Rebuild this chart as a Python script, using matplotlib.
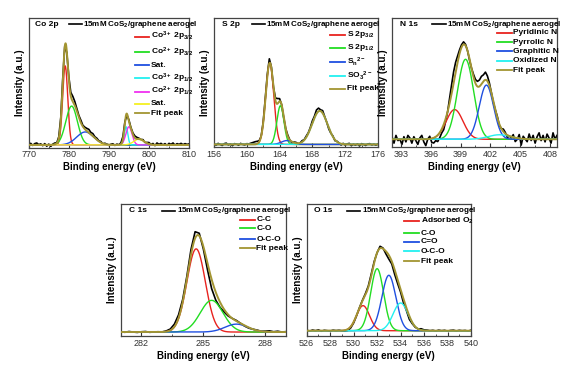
import numpy as np
import matplotlib
matplotlib.use("Agg")
import matplotlib.pyplot as plt
from matplotlib.ticker import MultipleLocator

plt.rcParams['font.family'] = ['Liberation Sans', 'DejaVu Sans']
plt.rcParams['mathtext.fontset'] = 'custom'
plt.rcParams['mathtext.rm'] = 'Liberation Sans:bold'
plt.rcParams['mathtext.it'] = 'Liberation Sans:bold'
plt.rcParams['mathtext.bf'] = 'Liberation Sans:bold'
plt.rcParams['mathtext.default'] = 'rm'

sample_label = "15mM CoS$_2$/graphene aerogel"

# ---------------- Co 2p ----------------
co_title = "Co 2p"
co_xlim = (770, 810)
co_baseline = 0.02
co_labels = ["Co$^{3+}$ 2p$_{3/2}$", "Co$^{2+}$ 2p$_{3/2}$", "Sat.",
             "Co$^{3+}$ 2p$_{1/2}$", "Co$^{2+}$ 2p$_{1/2}$", "Sat."]
co_centers = [779.1, 780.7, 784.1, 794.3, 795.0, 797.5]
co_heights = [0.61, 0.30, 0.10, 0.14, 0.14, 0.045]
co_fwhm = [1.5, 3.4, 5.0, 1.0, 1.8, 3.0]
co_resid = [0.005, 0.012, -0.004, 0.010, 0.015, 0.002, 0.008, -0.006, 0.010, -0.010,
            0.006, -0.012, 0.004, 0.010, 0.002, 0.010, 0.020, 0.030, 0.010, -0.010,
            0.020, 0.030, 0.040, 0.030, 0.020, 0.015, 0.020, 0.010, 0.015, 0.020,
            0.025, 0.015, 0.020, 0.010, 0.012, 0.004, 0.008, -0.004, 0.006, 0.002,
            -0.006, 0.004, 0.008, -0.004, 0.006, 0.000, 0.010, 0.020, 0.010, -0.010,
            0.010, 0.005, 0.010, 0.015, 0.012, 0.006, 0.000, 0.008, -0.004, 0.006,
            0.012, 0.000, 0.010, -0.006, 0.015, 0.004, 0.012, 0.000, 0.010, -0.004,
            0.012, 0.004, 0.015, -0.002, 0.010, 0.004, 0.012, 0.002, 0.010, 0.004,
            0.008]
co_colors = ["#e8231f", "#22dd22", "#1f4fe0", "#22f0f0", "#f030f0", "#f5f020"]
co_xticks = [770, 780, 790, 800, 810]

# ---------------- S 2p ----------------
s_title = "S 2p"
s_xlim = (156, 176)
s_baseline = 0.02
s_labels = ["S 2p$_{3/2}$", "S 2p$_{1/2}$", "S$_n$$^{2-}$", "SO$_3$$^{2-}$"]
s_centers = [162.8, 164.1, 164.9, 168.9]
s_heights = [0.63, 0.30, 0.03, 0.26]
s_fwhm = [1.15, 1.0, 1.6, 2.2]
s_resid = [0.004, -0.006, 0.008, 0.000, -0.008, 0.006, 0.010, -0.004, 0.004, -0.010,
           0.006, 0.002, -0.006, 0.008, 0.000, -0.004, 0.006,
           0.004, 0.010, 0.015, 0.020, 0.020, 0.010, 0.000, 0.010, 0.020, 0.020,
           0.035, 0.010, -0.010, 0.020, 0.040, 0.020, 0.000, -0.010, 0.000, 0.010,
           0.000, -0.010, 0.004, 0.006, -0.004, 0.000, 0.010, 0.004, 0.010, 0.006, 0.010,
           0.020, 0.015, 0.030, 0.025, 0.010, 0.020, 0.005, 0.000, -0.010,
           -0.004, 0.006, -0.008, 0.004, 0.000, -0.010, 0.006, -0.006, 0.004, 0.008,
           -0.010, 0.002, -0.006, 0.004, -0.012, 0.006, 0.000, -0.008, 0.004, 0.006,
           -0.004, 0.002, -0.006, 0.004]
s_colors = ["#e8231f", "#22dd22", "#1f4fe0", "#22f0f0"]
s_xticks = [156, 160, 164, 168, 172, 176]

# ---------------- N 1s ----------------
n_title = "N 1s"
n_xlim = (392.1, 408.7)
n_baseline = 0.06
n_labels = ["Pyridinic N", "Pyrrolic N", "Graphitic N", "Oxidized N"]
n_centers = [398.4, 399.5, 401.6, 402.9]
n_heights = [0.23, 0.62, 0.42, 0.035]
n_fwhm = [2.0, 1.9, 1.7, 2.6]
n_resid = [0.02, -0.03, 0.03, -0.01, 0.00, -0.04, 0.02, -0.02, 0.03, 0.01,
           -0.03, 0.02, -0.01, -0.04, 0.01, 0.03, -0.02, -0.05, 0.00, 0.02, -0.03,
           -0.04, -0.03, -0.05, -0.04, -0.03, -0.04, -0.02, 0.00,
           0.04, 0.07, 0.09, 0.08, 0.05, 0.03, 0.02,
           0.02, 0.01, 0.00, -0.01, 0.00, 0.02, 0.03,
           0.04, 0.05, 0.06, 0.05, 0.06, 0.04, 0.02, 0.00,
           -0.01, 0.00, 0.01, -0.01, 0.00, 0.02, 0.01, -0.02, 0.00, -0.01,
           0.02, -0.03, -0.01, 0.03, -0.05, 0.02, 0.00, -0.02, 0.04, -0.01,
           0.03, -0.03, 0.02, 0.05, -0.01, 0.03, -0.02, 0.04, 0.01, -0.03,
           0.05, 0.00, 0.03]
n_colors = ["#e8231f", "#22dd22", "#1f4fe0", "#22f0f0"]
n_xticks = [393, 396, 399, 402, 405, 408]

# ---------------- C 1s ----------------
c_title = "C 1s"
c_xlim = (281, 289)
c_baseline = 0.03
c_labels = ["C-C", "C-O", "O-C-O"]
c_centers = [284.65, 285.4, 286.6]
c_heights = [0.63, 0.24, 0.06]
c_fwhm = [1.05, 1.3, 1.3]
c_resid = [0.003, -0.002, 0.004, 0.000, -0.003, 0.002, 0.004, -0.002, 0.000, 0.002, 0.000,
           0.005, 0.010, 0.020, 0.025, 0.020, 0.020,
           0.040, 0.050, 0.020, -0.020,
           -0.050, -0.070, -0.060, -0.040, -0.020, -0.010,
           0.000, 0.005, 0.000, -0.005, -0.005, 0.000, 0.003, 0.000, 0.004, 0.008,
           0.002, 0.006, 0.000, 0.003]
c_colors = ["#e8231f", "#22dd22", "#1f4fe0"]
c_xticks = [282, 285, 288]

# ---------------- O 1s ----------------
o_title = "O 1s"
o_xlim = (526, 540)
o_baseline = 0.04
o_labels = ["Adsorbed O$_2$", "C-O", "C=O", "O-C-O"]
o_centers = [530.8, 532.0, 533.0, 534.0]
o_heights = [0.19, 0.47, 0.42, 0.21]
o_fwhm = [1.3, 1.3, 1.4, 1.5]
o_resid = [0.004, -0.003, 0.005, 0.000, 0.006, -0.004, 0.003, 0.000, -0.003, 0.004,
           0.000, 0.003, -0.002,
           -0.005, -0.010, -0.010, -0.008, -0.005, 0.000, 0.005, 0.010, 0.010, 0.015, 0.010,
           0.000, 0.015, 0.005, -0.020, -0.030, -0.020, -0.035, -0.030, -0.020,
           -0.030, -0.020, -0.025, -0.010, -0.005, 0.000, 0.010, 0.005,
           0.004, 0.000, 0.003, -0.002, 0.004, 0.000, 0.003, -0.003, 0.002, 0.004,
           -0.002, 0.003, 0.000, 0.002, -0.003, 0.004]
o_colors = ["#e8231f", "#22dd22", "#1f4fe0", "#22f0f0"]
o_xticks = [526, 528, 530, 532, 534, 536, 538, 540]

FIT_COLOR = "#a39532"


def gauss(x, c, h, w):
    return h * np.exp(-4 * np.log(2) * ((x - c) / w) ** 2)


def draw_panel(rect, title, xlim, baseline, labels, centers, heights, fwhm, resid,
               colors, xticks, minor, leg_x, leg_y, first_x, title_x):
    ax = fig.add_axes(rect)
    x = np.linspace(xlim[0], xlim[1], 1200)
    comps = [gauss(x, c, h, w) for c, h, w in zip(centers, heights, fwhm)]
    fit = baseline + np.sum(comps, axis=0)
    xe = np.linspace(xlim[0], xlim[1], len(resid))
    ce = [gauss(xe, c, h, w) for c, h, w in zip(centers, heights, fwhm)]
    exp_y = baseline + np.sum(ce, axis=0) + np.array(resid)
    ax.plot(xe, exp_y, color="black", lw=1.2, zorder=1)
    for comp, col in zip(comps, colors):
        ax.plot(x, baseline + comp, color=col, lw=1.0, zorder=2)
    ax.plot(x, fit, color=FIT_COLOR, lw=1.4, zorder=3)
    ax.set_xlim(*xlim)
    ax.set_ylim(0, 1)
    ax.set_yticks([])
    ax.set_xticks(xticks)
    ax.xaxis.set_minor_locator(MultipleLocator(minor))
    ax.tick_params(axis='x', which='major', direction='in', length=3, width=0.8,
                   labelsize=6.5, pad=2, colors='#333333')
    ax.tick_params(axis='x', which='minor', direction='in', length=1.8, width=0.6,
                   colors='#333333')
    for sp in ax.spines.values():
        sp.set_color('#444444')
        sp.set_linewidth(0.9)
    ax.set_xlabel("Binding energy (eV)", fontsize=7, fontweight='bold', labelpad=2)
    ax.set_ylabel("Intensity (a.u.)", fontsize=7, fontweight='bold', labelpad=3)
    tr = ax.transAxes
    ax.text(title_x, 0.95, title, transform=tr, fontsize=6, fontweight='bold',
            va='center', ha='left')
    # sample entry
    ax.plot([first_x, first_x + 0.08], [0.95, 0.95], color='black', lw=1.2,
            transform=tr, clip_on=False)
    ax.text(first_x + 0.09, 0.95, sample_label, transform=tr, fontsize=5.8,
            fontweight='bold', va='center', ha='left')
    all_labels = list(labels) + ["Fit peak"]
    all_colors = list(colors) + [FIT_COLOR]
    for lab, col, yy in zip(all_labels, all_colors, leg_y):
        ax.plot([leg_x, leg_x + 0.09], [yy, yy], color=col, lw=1.3, transform=tr)
        ax.text(leg_x + 0.1, yy, lab, transform=tr, fontsize=6, fontweight='bold',
                va='center', ha='left')
    return ax


fig = plt.figure(figsize=(5.79, 3.76), dpi=100)

draw_panel([0.0496, 0.6077, 0.2769, 0.3444], co_title, co_xlim, co_baseline, co_labels,
           co_centers, co_heights, co_fwhm, co_resid, co_colors, co_xticks, 5,
           0.66, [0.856, 0.735, 0.637, 0.534, 0.431, 0.336, 0.264], 0.25, 0.04)
draw_panel([0.3696, 0.609, 0.2832, 0.3431], s_title, s_xlim, s_baseline, s_labels,
           s_centers, s_heights, s_fwhm, s_resid, s_colors, s_xticks, 2,
           0.71, [0.87, 0.77, 0.66, 0.55, 0.45], 0.23, 0.047)
draw_panel([0.677, 0.609, 0.285, 0.3431], n_title, n_xlim, n_baseline, n_labels,
           n_centers, n_heights, n_fwhm, n_resid, n_colors, n_xticks, 1.5,
           0.635, [0.886, 0.814, 0.742, 0.669, 0.594], 0.245, 0.05)
draw_panel([0.2085, 0.1064, 0.2855, 0.351], c_title, c_xlim, c_baseline, c_labels,
           c_centers, c_heights, c_fwhm, c_resid, c_colors, c_xticks, 1.5,
           0.72, [0.88, 0.816, 0.733, 0.665], 0.248, 0.05)
draw_panel([0.5297, 0.1064, 0.2838, 0.351], o_title, o_xlim, o_baseline, o_labels,
           o_centers, o_heights, o_fwhm, o_resid, o_colors, o_xticks, 1,
           0.594, [0.87, 0.78, 0.715, 0.644, 0.568], 0.247, 0.045)

fig.savefig("out.png", dpi=100)
